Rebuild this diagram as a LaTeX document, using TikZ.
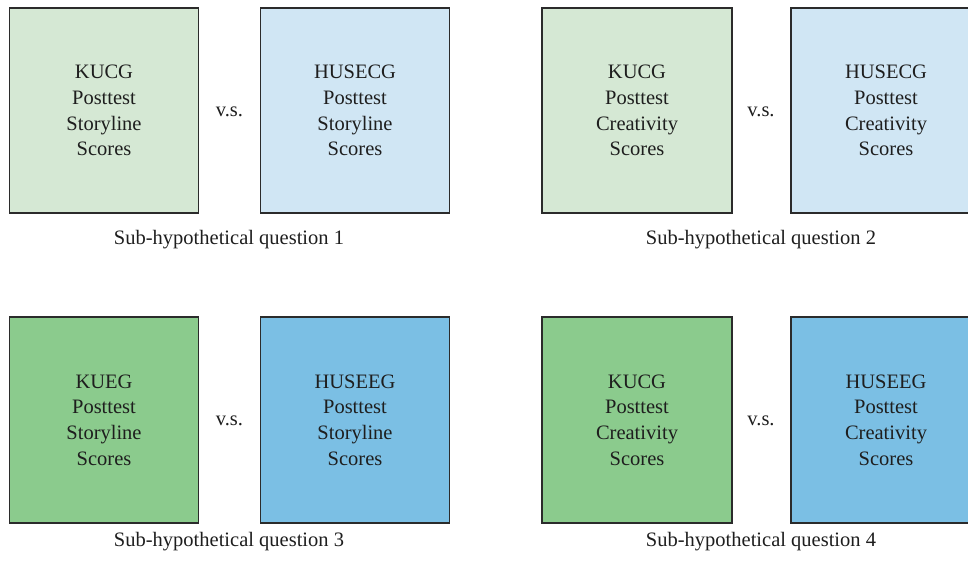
\documentclass[tikz,border=0pt]{standalone}
\usepackage{fontspec}
\setmainfont{Liberation Serif}
\definecolor{ctlgreen}{HTML}{D5E8D4}
\definecolor{ctlblue}{HTML}{D0E6F4}
\definecolor{expgreen}{HTML}{8BCB8D}
\definecolor{expblue}{HTML}{7BBFE4}
\definecolor{edge}{HTML}{2B2B2B}
\definecolor{ink}{HTML}{1E1E1E}
\begin{document}
\begin{tikzpicture}[x=1pt,y=-1pt,
  groupbox/.style={draw=edge, line width=1.4pt, rectangle, minimum width=189pt,
    minimum height=205pt, align=center, text=ink, inner sep=0pt,
    font=\fontsize{20.5}{25.7}\selectfont},
  versus/.style={text=ink, font=\fontsize{20.5}{25.7}\selectfont},
  caption/.style={text=ink, anchor=base, font=\fontsize{20.5}{25.7}\selectfont}]
\useasboundingbox (0,0) rectangle (968,560);
\clip (0,0) rectangle (968,560);
\fill[white] (0,0) rectangle (968,560);

% top row
\node[groupbox, fill=ctlgreen] (a1) at (104,110.5) {KUCG\\Posttest\\Storyline\\Scores};
\node[groupbox, fill=ctlblue] (b1) at (355,110.5) {HUSECG\\Posttest\\Storyline\\Scores};
\node[versus] (v1) at (229.5,112) {v.s.};
\node[caption] (c1) at (229,244) {Sub-hypothetical question 1};

\node[groupbox, fill=ctlgreen, minimum width=190pt] (a2) at (637,110.5) {KUCG\\Posttest\\Creativity\\Scores};
\node[groupbox, fill=ctlblue, minimum width=190pt] (b2) at (886,110.5) {HUSECG\\Posttest\\Creativity\\Scores};
\node[versus] (v2) at (761,112) {v.s.};
\node[caption] (c2) at (761,244) {Sub-hypothetical question 2};

% bottom row
\node[groupbox, fill=expgreen, minimum height=206pt] (a3) at (104,420) {KUEG\\Posttest\\Storyline\\Scores};
\node[groupbox, fill=expblue, minimum height=206pt] (b3) at (355,420) {HUSEEG\\Posttest\\Storyline\\Scores};
\node[versus] (v3) at (229.5,421) {v.s.};
\node[caption] (c3) at (229,546) {Sub-hypothetical question 3};

\node[groupbox, fill=expgreen, minimum width=190pt, minimum height=206pt] (a4) at (637,420) {KUCG\\Posttest\\Creativity\\Scores};
\node[groupbox, fill=expblue, minimum width=190pt, minimum height=206pt] (b4) at (886,420) {HUSEEG\\Posttest\\Creativity\\Scores};
\node[versus] (v4) at (761,421) {v.s.};
\node[caption] (c4) at (761,546) {Sub-hypothetical question 4};
\end{tikzpicture}
\end{document}
